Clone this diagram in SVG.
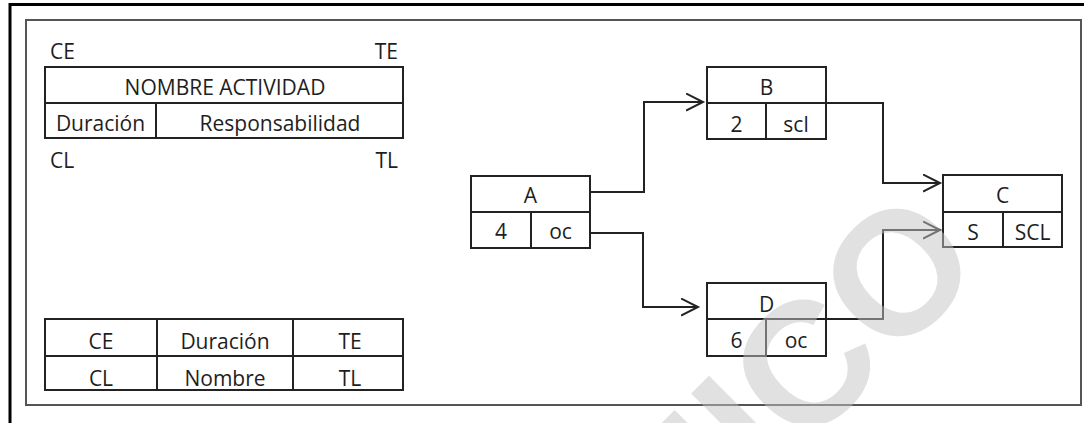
<svg xmlns="http://www.w3.org/2000/svg" width="1084" height="423" viewBox="0 0 1084 423">
  <style>
    .box { fill: none; stroke: #222; stroke-width: 2; }
    .ln { fill: none; stroke: #222; stroke-width: 2; }
    .t { font-family: "Open Sans", "Liberation Sans", sans-serif; font-size: 21px; font-weight: 500; fill: #1e1e1e; }
    .c { text-anchor: middle; }
    .r { text-anchor: end; }
    .wm { font-family: "Liberation Sans", Arial, sans-serif; font-weight: bold; font-size: 175px; fill: #c4c4c4; opacity: 0.5; }
  </style>
  <defs>
    <marker id="arr" markerUnits="userSpaceOnUse" markerWidth="20" markerHeight="20" refX="17" refY="9" orient="auto">
      <path d="M0,0.5 L17,9 L0,17.5" fill="none" stroke="#222" stroke-width="2"/>
    </marker>
  </defs>
  <rect width="1084" height="423" fill="#fff"/>
  <g id="frame">
    <path d="M10,423 V4.5 H1084" fill="none" stroke="#000" stroke-width="3"/>
    <rect x="26" y="20" width="1055" height="385" fill="none" stroke="#555" stroke-width="2"/>
  </g>
  <g id="legend-top">
    <text class="t" x="50" y="59">CE</text>
    <text class="t r" x="398" y="59">TE</text>
    <rect class="box" x="45" y="67" width="358" height="71"/>
    <line class="box" x1="45" y1="103" x2="403" y2="103"/>
    <line class="box" x1="156" y1="103" x2="156" y2="138"/>
    <text class="t c" x="225" y="95">NOMBRE ACTIVIDAD</text>
    <text class="t c" x="100.5" y="131">Duración</text>
    <text class="t c" x="280" y="131">Responsabilidad</text>
    <text class="t" x="50" y="168">CL</text>
    <text class="t r" x="398" y="168">TL</text>
  </g>
  <g id="legend-bottom">
    <rect class="box" x="45" y="319" width="358" height="71"/>
    <line class="box" x1="45" y1="356" x2="403" y2="356"/>
    <line class="box" x1="157" y1="319" x2="157" y2="390"/>
    <line class="box" x1="293" y1="319" x2="293" y2="390"/>
    <text class="t c" x="101" y="349">CE</text>
    <text class="t c" x="225" y="349">Duración</text>
    <text class="t c" x="350" y="349">TE</text>
    <text class="t c" x="101" y="386">CL</text>
    <text class="t c" x="225" y="386">Nombre</text>
    <text class="t c" x="350" y="386">TL</text>
  </g>
  <g id="connectors">
    <path class="ln" d="M590,192 H644 V102 H703" marker-end="url(#arr)"/>
    <path class="ln" d="M826,103 H883 V183 H940" marker-end="url(#arr)"/>
    <path class="ln" d="M590,233 H643 V307 H698" marker-end="url(#arr)"/>
    <path class="ln" d="M826,319 H883 V230 H940" marker-end="url(#arr)"/>
  </g>
  <g id="node-A">
    <rect class="box" x="471" y="176" width="119" height="72"/>
    <line class="box" x1="471" y1="212" x2="590" y2="212"/>
    <line class="box" x1="531" y1="212" x2="531" y2="248"/>
    <text class="t c" x="530.5" y="203">A</text>
    <text class="t c" x="501" y="239">4</text>
    <text class="t c" x="560.5" y="239">oc</text>
  </g>
  <g id="node-B">
    <rect class="box" x="707" y="67" width="119" height="72"/>
    <line class="box" x1="707" y1="103" x2="826" y2="103"/>
    <line class="box" x1="766" y1="103" x2="766" y2="139"/>
    <text class="t c" x="766.5" y="95">B</text>
    <text class="t c" x="736.5" y="132">2</text>
    <text class="t c" x="796" y="132">scl</text>
  </g>
  <g id="node-C">
    <rect class="box" x="943" y="175" width="119" height="72"/>
    <line class="box" x1="943" y1="212" x2="1062" y2="212"/>
    <line class="box" x1="1003" y1="212" x2="1003" y2="247"/>
    <text class="t c" x="1002.5" y="203">C</text>
    <text class="t c" x="973" y="240">S</text>
    <text class="t c" x="1032.5" y="240">SCL</text>
  </g>
  <g id="node-D">
    <rect class="box" x="707" y="283" width="119" height="73"/>
    <line class="box" x1="707" y1="319" x2="826" y2="319"/>
    <line class="box" x1="766" y1="319" x2="766" y2="356"/>
    <text class="t c" x="766.5" y="312">D</text>
    <text class="t c" x="736.5" y="348">6</text>
    <text class="t c" x="796" y="348">oc</text>
  </g>
  <g id="watermark">
    <text class="wm" transform="translate(665,590) rotate(-45)">MICO</text>
  </g>
</svg>
